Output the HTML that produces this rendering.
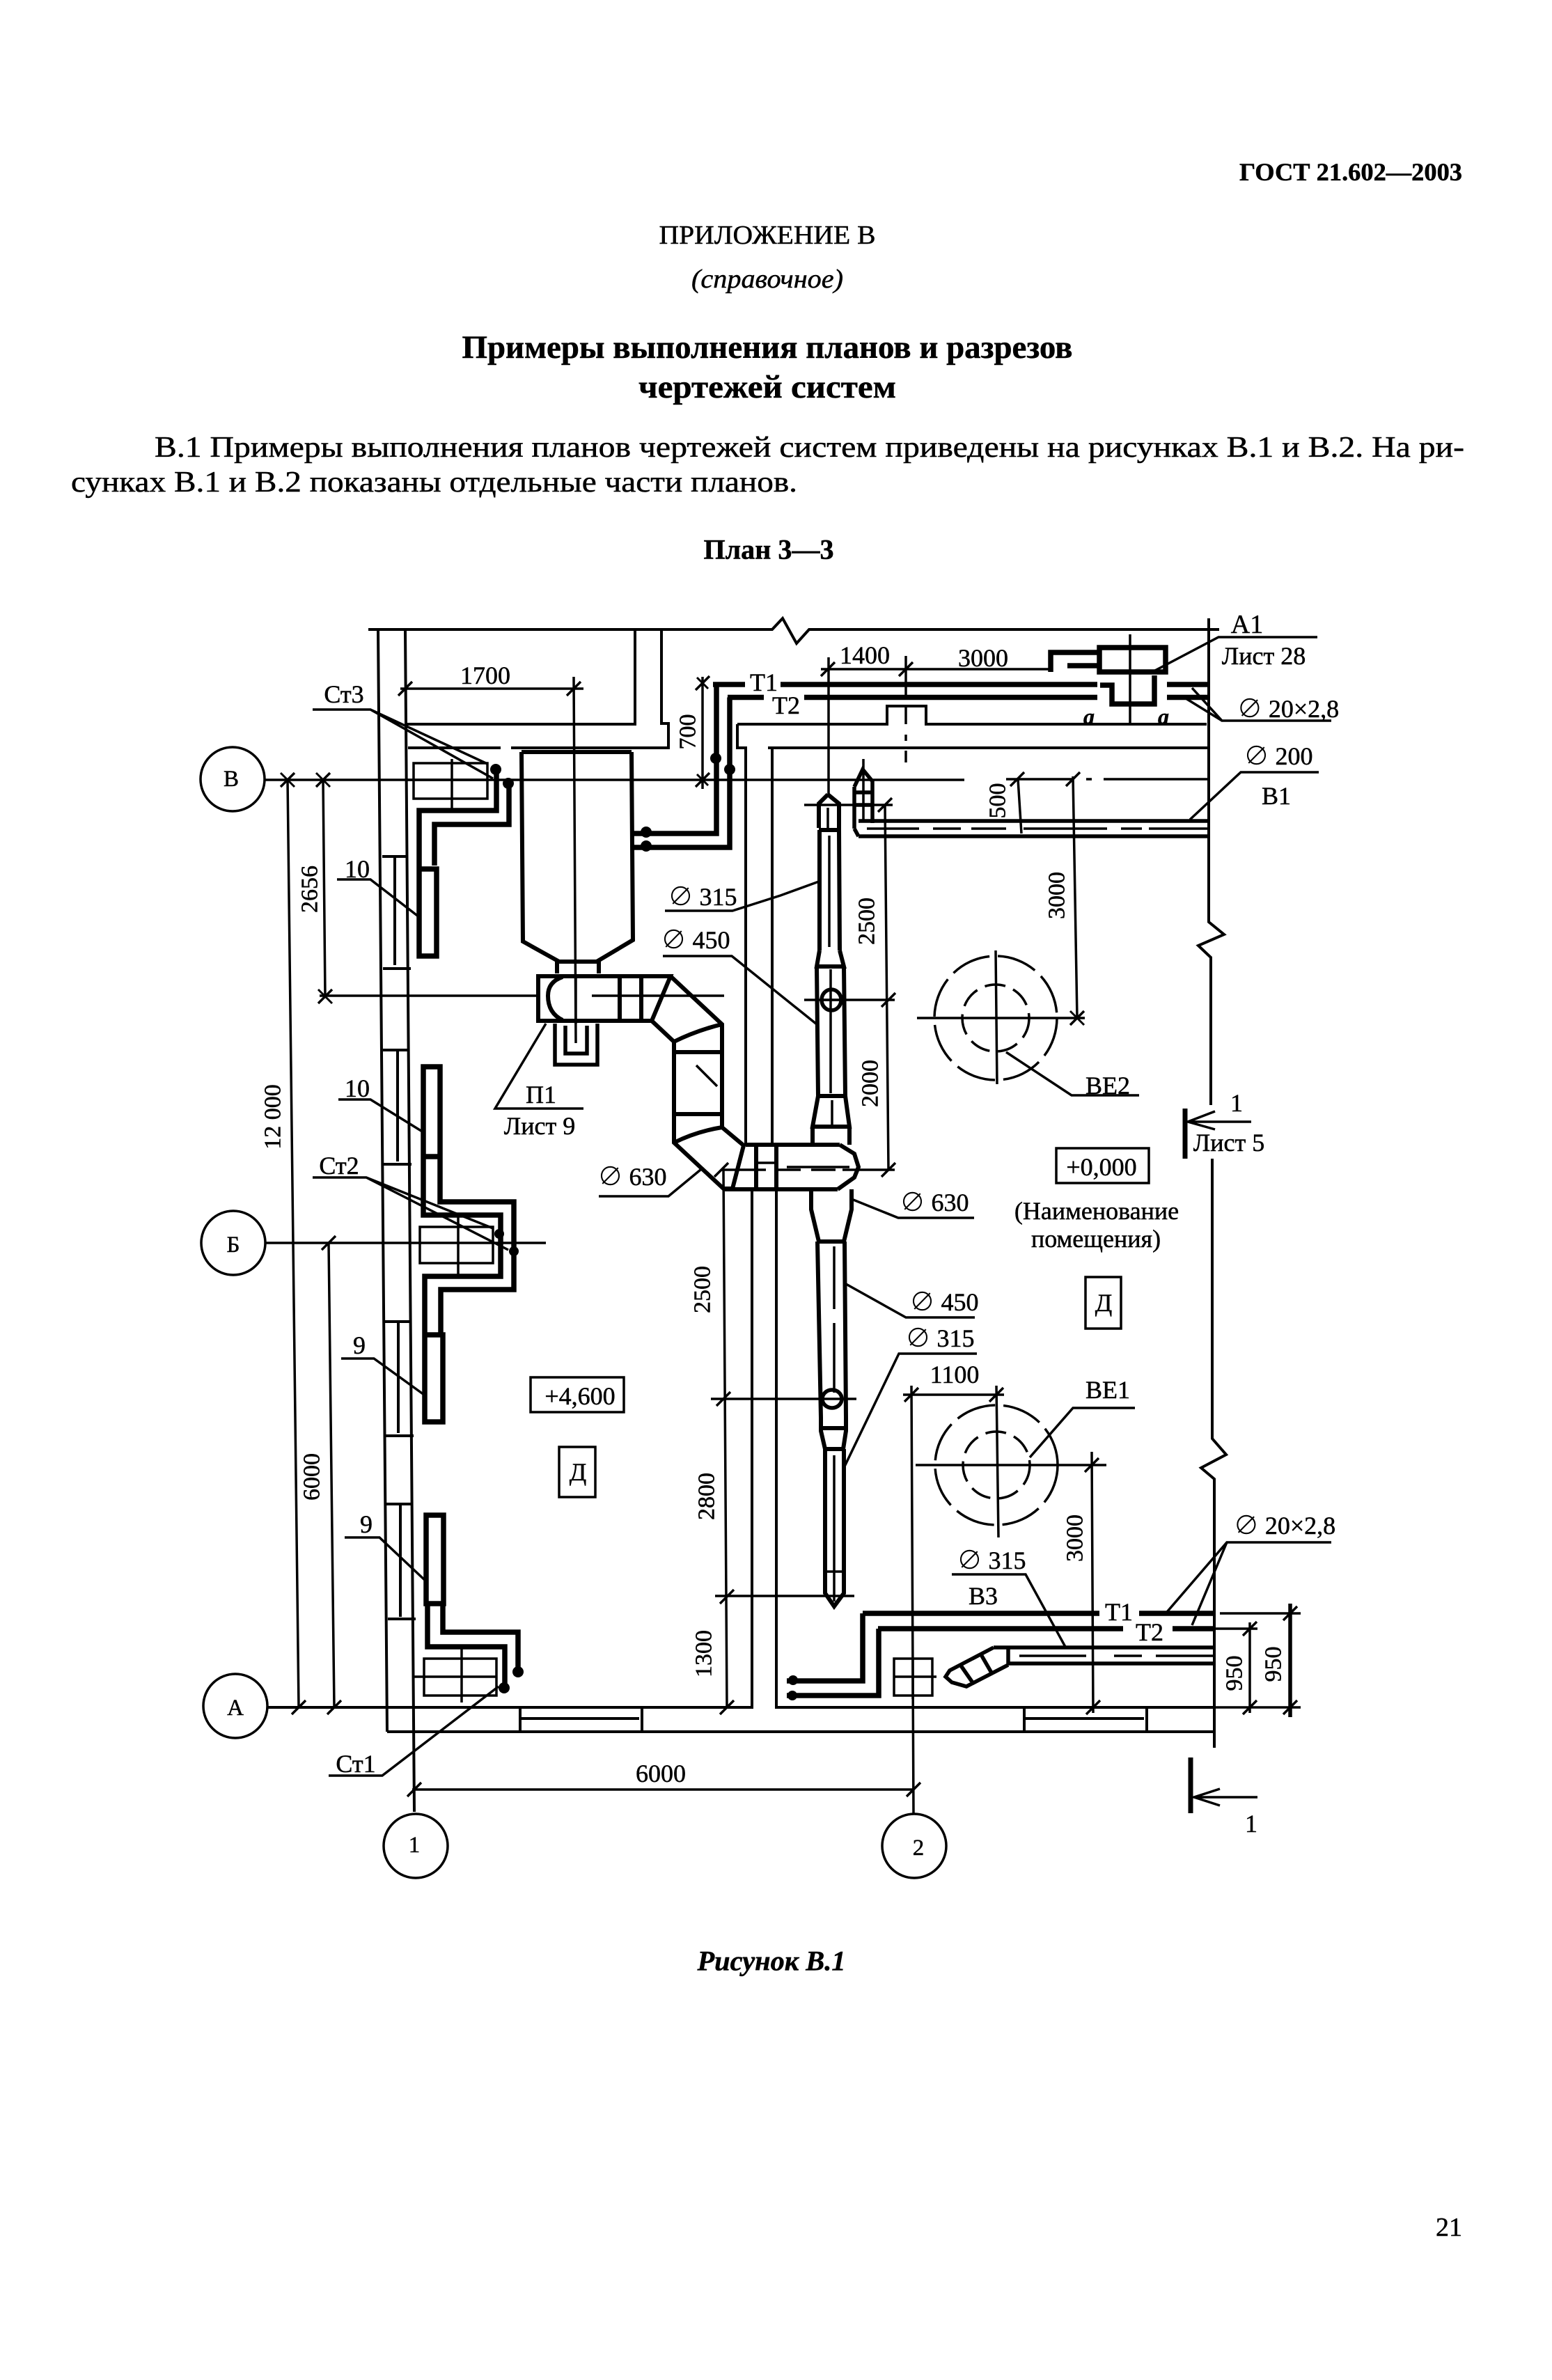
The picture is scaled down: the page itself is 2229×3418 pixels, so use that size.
<!DOCTYPE html>
<html lang="ru"><head><meta charset="utf-8"><title>ГОСТ 21.602—2003</title>
<style>
html,body{margin:0;padding:0;background:#fff}
svg{display:block}
text{font-family:"Liberation Serif","Noto Serif CJK SC",serif;fill:#000;stroke:#000;stroke-width:.5;dominant-baseline:central;font-size:36px}
.c{text-anchor:middle}
.t{fill:none;stroke:#000;stroke-width:3.5}
.m{fill:none;stroke:#000;stroke-width:5.5}
.k{fill:none;stroke:#000;stroke-width:7.5}
.x{fill:none;stroke:#000;stroke-width:4}
.b{font-weight:bold}
.i{font-style:italic}
.p{font-size:42px}
.r{font-size:34px}
</style></head><body>
<svg width="2229" height="3418" viewBox="0 0 2229 3418" xmlns="http://www.w3.org/2000/svg">
<rect width="2229" height="3418" fill="#fff"/>

<!-- page text -->
<g transform="translate(0 3)">
<text class="b" x="1780" y="244" style="font-size:36px" textLength="320" lengthAdjust="spacingAndGlyphs">ГОСТ 21.602—2003</text>
<text class="c" x="1102" y="335" style="font-size:38px" textLength="311" lengthAdjust="spacingAndGlyphs">ПРИЛОЖЕНИЕ В</text>
<text class="c i" x="1102" y="398" style="font-size:38px" textLength="218" lengthAdjust="spacingAndGlyphs">(справочное)</text>
<text class="c b" x="1102" y="496" style="font-size:47px" textLength="877" lengthAdjust="spacingAndGlyphs">Примеры выполнения планов и разрезов</text>
<text class="c b" x="1102" y="553" style="font-size:47px" textLength="370" lengthAdjust="spacingAndGlyphs">чертежей систем</text>
<text class="p" x="222" y="640" textLength="1881" lengthAdjust="spacingAndGlyphs">В.1 Примеры выполнения планов чертежей систем приведены на рисунках В.1 и В.2. На ри-</text>
<text class="p" x="102" y="690" textLength="1043" lengthAdjust="spacingAndGlyphs">сунках В.1 и В.2 показаны отдельные части планов.</text>
<text class="c b" x="1104" y="786" style="font-size:40px" textLength="187" lengthAdjust="spacingAndGlyphs">План 3—3</text>
<text class="c b i" x="1108" y="2813" style="font-size:40px" textLength="213" lengthAdjust="spacingAndGlyphs">Рисунок В.1</text>
<text class="c" x="2081" y="3196" style="font-size:38px">21</text>
</g>

<!-- walls (thin) -->
<path class="x" d="M529 904H1109L1124 888L1144 924L1162 904H1751
M543 904L556 2487 M582 904L595 2602
M582 1040H912V904 M950 904V1039H960V1074H734 M586 1074H719
M1059 1040H1274V1014H1330V1040H1733 M1059 1040V1074H1071V1644 M1103 1074H1736 M1109 1074V1644
M1080 1708V2452H385 M1115 1708V2452H1745 M556 2487H1745
M1736 888V1324L1758 1342L1721 1358L1739 1375V1587 M1741 1664V2066L1761 2089L1725 2108L1744 2124V2510
M747 2452V2487 M922 2452V2487 M747 2468H918 M1471 2452V2487 M1647 2452V2487 M1471 2468H1643
M549 1230H583 M550 1391H590 M567 1230V1386 M550 1508H586 M551 1672H591 M571 1508V1668 M552 1898H590 M553 2062H594 M572 1898V2058 M555 2160H593 M557 2325H597 M575 2158V2322"/>

<!-- grid & axis lines -->
<circle class="t" cx="334" cy="1119" r="46"/>
<circle class="t" cx="335" cy="1785" r="46"/>
<circle class="t" cx="338" cy="2450" r="46"/>
<circle class="t" cx="597" cy="2651" r="46"/>
<circle class="t" cx="1313" cy="2651" r="46"/>
<text class="c" x="332" y="1119" style="font-size:33px">В</text>
<text class="c" x="335" y="1788" style="font-size:33px">Б</text>
<text class="c" x="338" y="2453" style="font-size:33px">А</text>
<text class="c" x="595" y="2650" style="font-size:33px">1</text>
<text class="c" x="1319" y="2654" style="font-size:33px">2</text>
<path class="t" d="M380 1120H1385 M1560 1119H1568 M1585 1119H1736 M382 1785H784
M1309 1990L1312 2605 M592 2570H1312 M413 1120L429 2452 M464 1120L467 1431 M459 1430H770 M472 1785L480 2452
M824 972L827 1498 M575 989H838 M1009 972V1133 M1190 944V1141 M1179 961H1509 M1301 942V1000 M1301 1014V1040 M1301 1055V1064 M1301 1078V1095
M1445 1119H1541 M1541 1115L1547 1462 M1462 1119L1467 1197 M1155 1156H1282 M1155 1436H1285 M1271 1156L1276 1680
M1036 1680H1100 M1115 1680H1150 M1165 1680H1200 M1210 1680H1285
M1039 1680L1044 2452 M1021 2009H1230 M1027 2292H1227 M1297 2003H1442 M1568 2085L1570 2460
M1745 2339H1806 M1752 2317H1868 M1745 2452H1868 M1795 2330V2460"/>
<path class="m" d="M1853 2303V2466"/>
<!-- ticks -->
<path class="t" style="stroke-width:3.5" d="M403 1130l20-20M454 1130l20-20M457 1441l20-20M462 1795l20-20M470 2462l20-20M419 2462l20-20
M572 999l20-20M814 999l20-20M999 991l20-20M999 1130l20-20M1179 971l20-20M1291 971l20-20
M1451 1129l20-20M1531 1129l20-20M1261 1166l20-20M1266 1446l20-20M1266 1690l20-20M1537 1472l20-20
M1026 1690l20-20M1029 2019l20-20M1034 2303l20-20M1034 2462l20-20M1299 2013l20-20M1421 2013l20-20
M1558 2114l20-20M1560 2462l20-20M1785 2349l20-20M1785 2462l20-20M1843 2327l20-20M1843 2462l20-20M585 2580l20-20M1302 2580l20-20"/>
<path class="t" style="stroke-width:3" d="M403 1110l20 20M454 1110l20 20M457 1421l20 20M1001 973l16 16M1001 1112l16 16M1537 1452l20 20"/>

<!-- dimension labels -->
<text class="c" x="697" y="970">1700</text>
<text class="c" x="1242" y="941">1400</text>
<text class="c" x="1412" y="945">3000</text>
<text class="c" x="949" y="2547">6000</text>
<text class="c" x="1371" y="1974">1100</text>
<g>
<text class="c r" transform="rotate(-90 445 1277)" x="445" y="1277">2656</text>
<text class="c r" transform="rotate(-90 392 1604)" x="392" y="1604">12 000</text>
<text class="c r" transform="rotate(-90 448 2121)" x="448" y="2121">6000</text>
<text class="c r" transform="rotate(-90 988 1051)" x="988" y="1051">700</text>
<text class="c r" transform="rotate(-90 1433 1150)" x="1433" y="1150">500</text>
<text class="c r" transform="rotate(-90 1245 1323)" x="1245" y="1323">2500</text>
<text class="c r" transform="rotate(-90 1250 1556)" x="1250" y="1556">2000</text>
<text class="c r" transform="rotate(-90 1518 1286)" x="1518" y="1286">3000</text>
<text class="c r" transform="rotate(-90 1009 1852)" x="1009" y="1852">2500</text>
<text class="c r" transform="rotate(-90 1015 2149)" x="1015" y="2149">2800</text>
<text class="c r" transform="rotate(-90 1011 2375)" x="1011" y="2375">1300</text>
<text class="c r" transform="rotate(-90 1544 2209)" x="1544" y="2209">3000</text>
<text class="c r" transform="rotate(-90 1773 2403)" x="1773" y="2403">950</text>
<text class="c r" transform="rotate(-90 1829 2390)" x="1829" y="2390">950</text>
</g>

<!-- AHU / ducts -->
<path class="m" style="stroke-width:6" d="M749 1080H907 M749 1080L751 1352L803 1381H857L909 1350L907 1080 M800 1381V1398 M860 1381V1398
M773 1402H963L936 1466H773Z M808 1403Q787 1410 787 1430Q787 1455 808 1465 M890 1402V1467 M921 1402V1467
M963 1402L1037 1471L1037 1619L1068 1645L1052 1707L1039 1707L968 1641V1496L936 1466
M1037 1471Q1000 1480 968 1496 M968 1511H1037 M968 1600H1037 M968 1641Q1000 1625 1037 1619
M1071 1644H1206 M1041 1708H1203 M1086 1644V1708 M1115 1644V1708
M1206 1644L1227 1657L1233 1676L1227 1691L1203 1708
M1189 1141L1176 1154V1189 M1189 1141L1205 1154V1192 M1176 1192H1205 M1177 1192V1365 M1205 1192L1206 1365 M1177 1365L1173 1388H1212L1206 1365
M1173 1388L1175 1574H1214L1212 1388 M1175 1574L1167 1618H1220L1214 1574 M1167 1618V1644 M1220 1618V1644
M1165 1708V1737L1176 1783H1212L1223 1737V1708 M1174 1783L1179 2036V2055L1185 2081H1211L1215 2055V2036L1213 1783 M1179 2051H1215
M1185 2081V2288L1198 2307L1212 2288V2081"/>
<path class="m" d="M797 1470V1529H858V1470 M812 1473V1513H843V1473"/>
<path class="m" d="M1233 1179H1736 M1233 1201H1736 M1227 1190L1233 1201 M1227 1130L1239 1105L1253 1122V1182 M1227 1130V1190 M1227 1138H1253 M1227 1156H1253
M1427 2366H1742 M1448 2389H1742 M1427 2366L1364 2399L1358 2408L1367 2416L1388 2422L1448 2391 M1448 2366V2391 M1380 2392L1398 2418 M1410 2378L1425 2404"/>
<path class="t" d="M827 1400V1470 M1040 1430H850
M1189 1160V1190 M1191 1200V1360 M1193 1392V1570 M1195 1580V1615 M1198 1790V1880 M1198 1900V2000 M1198 2090V2300 M1185 2257H1212
M1178 1436H1212 M1179 2051H1215
M1240 1090V1180 M1245 1190H1320 M1340 1190H1380 M1395 1190H1445 M1470 1190H1590 M1610 1190H1640 M1650 1190H1736
M1464 2378H1560 M1600 2378H1640 M1660 2378H1742 M1000 1530L1030 1560
M1086 1670H1115 M1130 1676H1220"/>
<ellipse class="m" cx="1194" cy="1436" rx="14" ry="15"/>
<ellipse class="m" cx="1195" cy="2009" rx="14" ry="13"/>

<!-- diffusers -->
<g class="t" fill="none">
<ellipse class="m" style="stroke-width:3.5;stroke-dasharray:58 12" cx="1430" cy="1462" rx="88" ry="89"/>
<ellipse class="m" style="stroke-width:3.5;stroke-dasharray:30 12" cx="1430" cy="1462" rx="48" ry="48"/>
<ellipse class="m" style="stroke-width:3.5;stroke-dasharray:58 12" cx="1431" cy="2104" rx="88" ry="86"/>
<ellipse class="m" style="stroke-width:3.5;stroke-dasharray:30 12" cx="1431" cy="2104" rx="48" ry="48"/>
</g>
<path class="t" d="M1317 1462H1558 M1430 1365L1432 1557 M1315 2104H1589 M1431 1990L1434 2208"/>

<!-- boxes at risers -->
<path class="t" d="M594 1096H700V1147H594Z M649 1090V1161 M583 1120H700
M603 1762H708V1814H603Z M658 1745V1833
M609 2382H713V2435H609Z M663 2365V2445 M594 2408H713
M1284 2382H1339V2435H1284Z M1284 2408H1345 M1311 2382V2440
M1579 930H1674V965H1579Z M1623 911V1039"/>

<!-- heating pipes -->
<path class="k" d="M602 1248H627V1373H602Z M602 1245V1164H713V1105 M624 1243V1184H731V1120
M608 1532H632V1661H608Z M608 1661V1745H719V1833H610V1917 M632 1661V1726H738V1852H633V1917 M610 1917H636V2042H610Z
M612 2176H637V2303H612Z M614 2303V2365H725V2422 M636 2303V2344H744V2401
M1024 983H1070 M1121 983H1576 M1580 984H1597V1011H1658V970 M1045 1001.5H1097 M1155 1001.5H1576 M1676 983H1738 M1676 1001.5H1738
M1029 983V1197H906 M1048 1001.5V1217H906 M1509 965V937H1579 M1533 956H1576 M1579 930H1674V965H1579Z
M1239 2317H1579 M1636 2317H1745 M1261 2339H1613 M1684 2339H1744
M1239 2317V2414H1130 M1262 2339V2435H1130"/>
<g fill="#000">
<circle cx="712" cy="1105" r="8"/><circle cx="730" cy="1125" r="8"/>
<circle cx="717" cy="1772" r="7"/><circle cx="738" cy="1797" r="7"/>
<circle cx="724" cy="2424" r="8"/><circle cx="744" cy="2401" r="8"/>
<circle cx="928" cy="1195" r="8"/><circle cx="928" cy="1215" r="8"/>
<circle cx="1028" cy="1089" r="8"/><circle cx="1048" cy="1105" r="8"/>
<circle cx="1139" cy="2413" r="7"/><circle cx="1138" cy="2435" r="7"/>
</g>

<!-- leaders -->
<path class="t" d="M449 1019H532L700 1097 M532 1019L708 1118
M484 1263H532L602 1317 M486 1579H532L608 1626
M449 1691H526L708 1764 M526 1691L730 1795
M490 1951H537L609 2003 M495 2208H545L612 2271
M472 2550H549L716 2422
M784 1470L711 1592H838
M955 1308H1052L1121 1286L1176 1266 M952 1373H1051L1173 1471
M860 1718H960L1006 1680 M1399 1749H1290L1223 1722 M1400 1892H1301L1215 1844 M1403 1944H1291L1212 2108
M1630 2022H1541L1479 2093 M1636 1573H1539L1445 1511
M1892 915H1750L1655 965 M1912 1035H1755L1712 988 M1755 1035L1703 1003 M1894 1109H1782L1709 1177
M1367 2261H1473L1530 2365 M1912 2215H1762L1676 2315 M1762 2215L1712 2334"/>

<!-- leader labels -->
<text class="c" x="494" y="997">Ст3</text>
<text class="c" x="487" y="1674">Ст2</text>
<text class="c" x="511" y="2533">Ст1</text>
<text class="c" x="513" y="1248">10</text>
<text class="c" x="513" y="1563">10</text>
<text class="c" x="516" y="1932">9</text>
<text class="c" x="526" y="2189">9</text>
<text class="c" x="777" y="1572">П1</text>
<text class="c" x="775" y="1617">Лист 9</text>
<text class="c" x="1009" y="1288">∅ 315</text>
<text class="c" x="999" y="1350">∅ 450</text>
<text class="c" x="908" y="1690">∅ 630</text>
<text class="c" x="1342" y="1727">∅ 630</text>
<text class="c" x="1356" y="1870">∅ 450</text>
<text class="c" x="1350" y="1922">∅ 315</text>
<text class="c" x="1424" y="2241">∅ 315</text>
<text class="c" x="1412" y="2292">В3</text>
<text class="c" x="1591" y="1996">ВЕ1</text>
<text class="c" x="1591" y="1559">ВЕ2</text>
<text class="c" x="1097" y="980">Т1</text>
<text class="c" x="1129" y="1013">Т2</text>
<text class="c" x="1607" y="2315">Т1</text>
<text class="c" x="1651" y="2344">Т2</text>
<text class="c" x="1791" y="897" style="font-size:38px">А1</text>
<text class="c" x="1815" y="942">Лист 28</text>
<text class="c" x="1850" y="1018">∅ 20×2,8</text>
<text class="c" x="1845" y="2191">∅ 20×2,8</text>
<text class="c" x="1836" y="1086">∅ 200</text>
<text class="c" x="1833" y="1143">В1</text>
<text class="c i b" x="1564" y="1029" style="font-size:32px">а</text>
<text class="c i b" x="1671" y="1029" style="font-size:32px">а</text>

<!-- room labels -->
<path class="t" d="M762 1978H896V2028H762Z M803 2078H855V2150H803Z M1517 1649H1650V1699H1517Z M1559 1834H1610V1908H1559Z"/>
<text class="c" x="833" y="2005">+4,600</text>
<text class="c" x="830" y="2114">Д</text>
<text class="c" x="1582" y="1676">+0,000</text>
<text class="c" x="1575" y="1739">(Наименование</text>
<text class="c" x="1574" y="1779">помещения)</text>
<text class="c" x="1585" y="1871">Д</text>

<!-- section marks -->
<path class="m" style="stroke-width:7" d="M1702 1592V1664 M1710 2524V2604"/>
<path class="t" d="M1706 1611H1797 M1745 1596L1706 1611L1745 1622 M1715 2581H1806 M1752 2569L1715 2581L1752 2593"/>
<text class="c" x="1776" y="1584">1</text>
<text class="c" x="1765" y="1641">Лист 5</text>
<text class="c" x="1797" y="2619">1</text>
</svg>
</body></html>
